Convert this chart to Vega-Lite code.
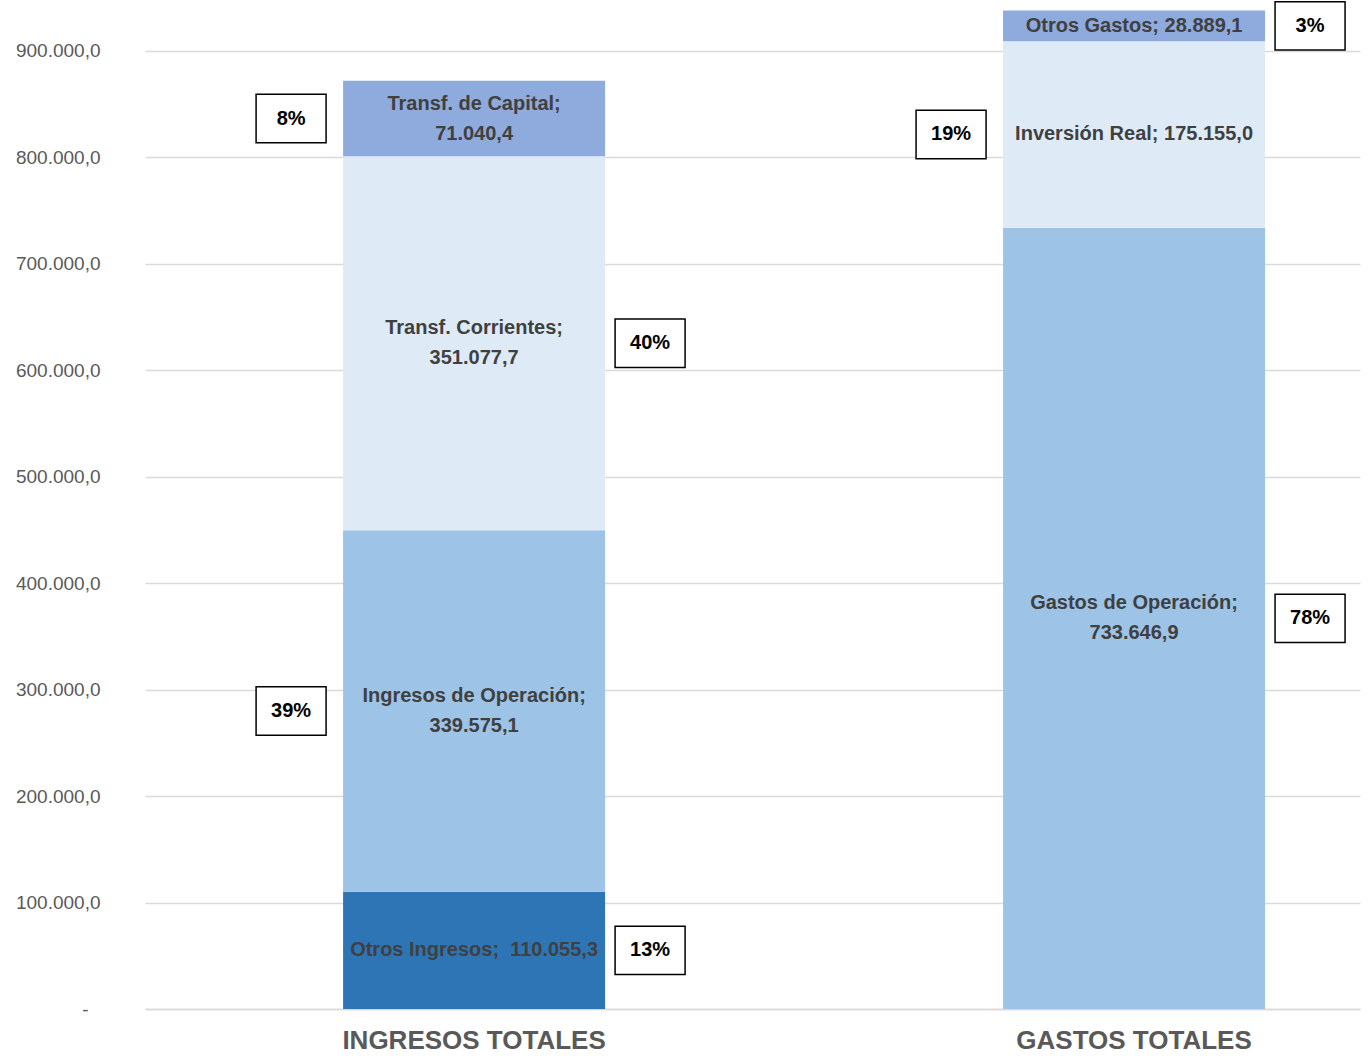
{
  "$schema": "https://vega.github.io/schema/vega-lite/v6.json",
  "width": 1215,
  "height": 1001,
  "autosize": {"type": "none"},
  "padding": {"left": 145, "top": 8, "right": 8, "bottom": 47},
  "background": "white",
  "config": {
    "locale": {"number": {"decimal": ",", "thousands": ".", "grouping": [3], "currency": ["$", ""]}},
    "view": {"stroke": null},
    "font": "Liberation Sans"
  },
  "data": {
    "values": [
      {"grupo": "INGRESOS TOTALES", "serie": "Otros Ingresos", "valor": 110055.3, "etiqueta": "Otros Ingresos;\u00a0 110.055,3"},
      {"grupo": "INGRESOS TOTALES", "serie": "Ingresos de Operación", "valor": 339575.1, "etiqueta": "Ingresos de Operación;\n339.575,1"},
      {"grupo": "INGRESOS TOTALES", "serie": "Transf. Corrientes", "valor": 351077.7, "etiqueta": "Transf. Corrientes;\n351.077,7"},
      {"grupo": "INGRESOS TOTALES", "serie": "Transf. de Capital", "valor": 71040.4, "etiqueta": "Transf. de Capital;\n71.040,4"},
      {"grupo": "GASTOS TOTALES", "serie": "Gastos de Operación", "valor": 733646.9, "etiqueta": "Gastos de Operación;\n733.646,9"},
      {"grupo": "GASTOS TOTALES", "serie": "Inversión Real", "valor": 175155.0, "etiqueta": "Inversión Real; 175.155,0"},
      {"grupo": "GASTOS TOTALES", "serie": "Otros Gastos", "valor": 28889.1, "etiqueta": "Otros Gastos; 28.889,1"}
    ]
  },
  "transform": [
    {"stack": "valor", "groupby": ["grupo"], "as": ["y0", "y1"]},
    {"joinaggregate": [{"op": "sum", "field": "valor", "as": "total"}], "groupby": ["grupo"]},
    {"calculate": "(datum.y0 + datum.y1) / 2", "as": "medio"},
    {"calculate": "datum.valor / datum.total", "as": "pct"}
  ],
  "encoding": {
    "x": {
      "field": "grupo",
      "type": "nominal",
      "sort": ["INGRESOS TOTALES", "GASTOS TOTALES"],
      "scale": {"type": "band", "paddingInner": 0.603, "paddingOuter": 0.222, "align": 0.676},
      "axis": {
        "title": null,
        "labelAngle": 0,
        "ticks": false,
        "labelLimit": 0,
        "labelFont": "Liberation Sans",
        "labelFontSize": 26,
        "labelFontWeight": "bold",
        "labelColor": "#595959",
        "labelPadding": 18,
        "domainColor": "#d9d9d9",
        "domainWidth": 1.5
      }
    }
  },
  "layer": [
    {
      "mark": {"type": "bar"},
      "encoding": {
        "y": {
          "field": "y1",
          "type": "quantitative",
          "scale": {"domain": [0, 940000], "nice": false, "zero": true},
          "axis": {
            "title": null,
            "values": [0, 100000, 200000, 300000, 400000, 500000, 600000, 700000, 800000, 900000],
            "format": ",.1f",
            "labelExpr": "datum.value == 0 ? '-' : datum.label",
            "domain": false,
            "ticks": false,
            "labelPadding": {"condition": {"test": "datum.value == 0", "value": 57}, "value": 45},
            "labelFont": "Liberation Sans",
            "labelFontSize": 19,
            "labelColor": "#595959",
            "gridColor": "#d9d9d9",
            "gridWidth": 1.5
          }
        },
        "y2": {"field": "y0"},
        "color": {
          "field": "serie",
          "type": "nominal",
          "legend": null,
          "scale": {
            "domain": ["Otros Ingresos", "Ingresos de Operación", "Transf. Corrientes", "Transf. de Capital", "Gastos de Operación", "Inversión Real", "Otros Gastos"],
            "range": ["#2E75B6", "#9DC3E6", "#DEEBF7", "#8FAADC", "#9DC3E6", "#DEEBF7", "#8FAADC"]
          }
        }
      }
    },
    {
      "transform": [{"filter": "indexof(datum.etiqueta, '\\n') >= 0"}],
      "mark": {"type": "text", "lineBreak": "\n", "lineHeight": 30, "fontSize": 20, "fontWeight": "bold", "color": "#404040", "baseline": "middle", "align": "center", "dy": -15},
      "encoding": {
        "y": {"field": "medio", "type": "quantitative"},
        "text": {"field": "etiqueta"}
      }
    },
    {
      "transform": [{"filter": "indexof(datum.etiqueta, '\\n') < 0"}],
      "mark": {"type": "text", "fontSize": 20, "fontWeight": "bold", "color": "#404040", "baseline": "middle", "align": "center"},
      "encoding": {
        "y": {"field": "medio", "type": "quantitative"},
        "text": {"field": "etiqueta"}
      }
    },
    {
      "transform": [{"filter": {"field": "serie", "oneOf": ["Transf. de Capital", "Ingresos de Operación", "Inversión Real"]}}],
      "layer": [
        {
          "mark": {"type": "point", "shape": "M-1,-0.69L1,-0.69L1,0.69L-1,0.69Z", "size": 4900, "filled": true, "fill": "white", "stroke": "black", "strokeWidth": 1.5, "opacity": 1, "xOffset": -183},
          "encoding": {"y": {"field": "medio", "type": "quantitative"}}
        },
        {
          "mark": {"type": "text", "fontSize": 20, "fontWeight": "bold", "color": "black", "baseline": "middle", "align": "center", "dx": -183},
          "encoding": {
            "y": {"field": "medio", "type": "quantitative"},
            "text": {"field": "pct", "type": "quantitative", "format": ".0%"}
          }
        }
      ]
    },
    {
      "transform": [{"filter": {"not": {"field": "serie", "oneOf": ["Transf. de Capital", "Ingresos de Operación", "Inversión Real"]}}}],
      "layer": [
        {
          "mark": {"type": "point", "shape": "M-1,-0.69L1,-0.69L1,0.69L-1,0.69Z", "size": 4900, "filled": true, "fill": "white", "stroke": "black", "strokeWidth": 1.5, "opacity": 1, "xOffset": 176},
          "encoding": {"y": {"field": "medio", "type": "quantitative"}}
        },
        {
          "mark": {"type": "text", "fontSize": 20, "fontWeight": "bold", "color": "black", "baseline": "middle", "align": "center", "dx": 176},
          "encoding": {
            "y": {"field": "medio", "type": "quantitative"},
            "text": {"field": "pct", "type": "quantitative", "format": ".0%"}
          }
        }
      ]
    }
  ]
}
